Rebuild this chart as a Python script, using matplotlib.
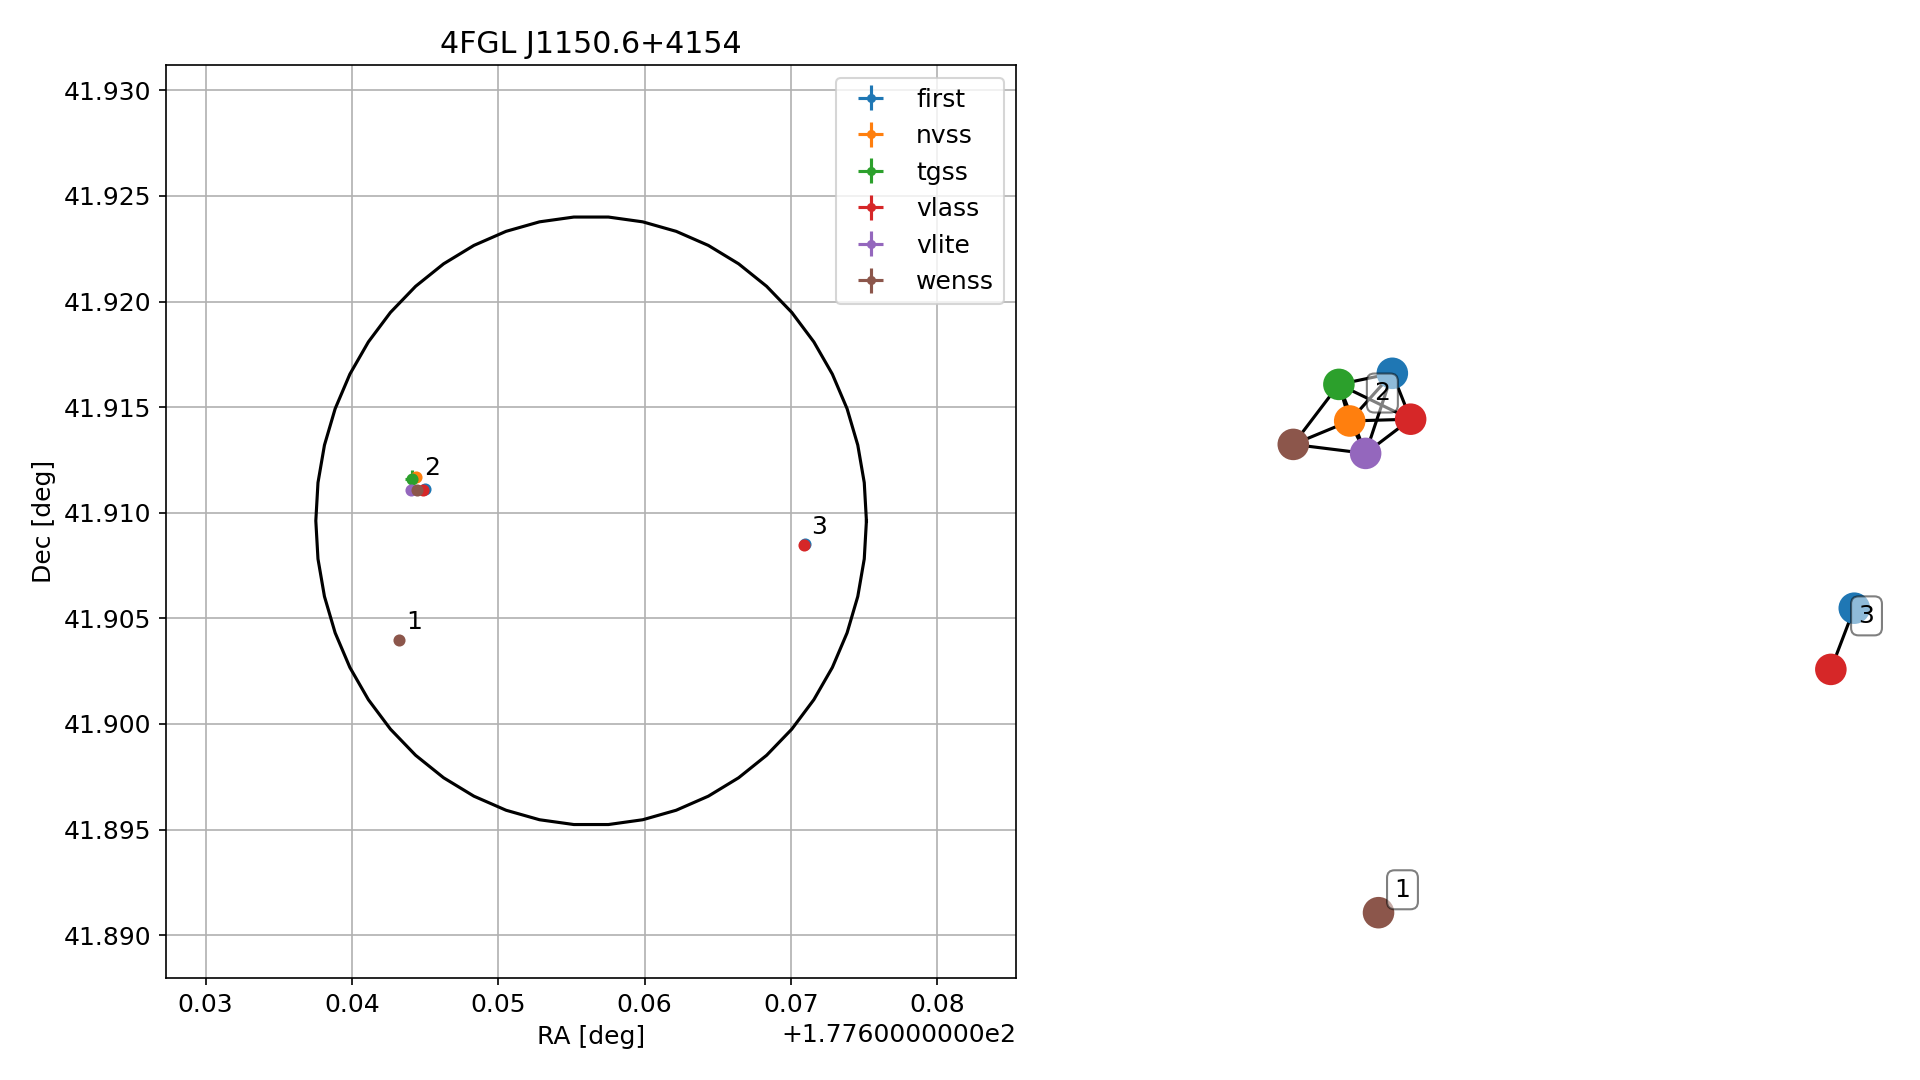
import numpy as np
import matplotlib
matplotlib.use('Agg')
import matplotlib.pyplot as plt
from matplotlib.ticker import ScalarFormatter

plt.rcParams['font.size'] = 12

# source name and 4FGL ellipse
title = '4FGL J1150.6+4154'
ell_ra, ell_dec = 177.65634, 41.90962
ell_a, ell_b = 0.01881, 0.01441   # half widths in RA and Dec [deg]

# radio counterparts per survey
surveys = ['first', 'nvss', 'tgss', 'vlass', 'vlite', 'wenss']
ra = {
    'first': [177.64502, 177.67094],
    'nvss': [177.64435],
    'tgss': [177.64408],
    'vlass': [177.64487, 177.67087],
    'vlite': [177.64401],
    'wenss': [177.64446, 177.64321],
}
dec = {
    'first': [41.911106, 41.90851],
    'nvss': [41.911683],
    'tgss': [41.911603],
    'vlass': [41.911082, 41.90848],
    'vlite': [41.911082],
    'wenss': [41.911082, 41.90397],
}
ra_err = {
    'first': [0.00003, 0.00003],
    'nvss': [0.00015],
    'tgss': [0.00046],
    'vlass': [0.00002, 0.00002],
    'vlite': [0.0001],
    'wenss': [0.0001, 0.0001],
}
dec_err = {
    'first': [0.00003, 0.00003],
    'nvss': [0.0002],
    'tgss': [0.0004],
    'vlass': [0.00002, 0.00002],
    'vlite': [0.0001],
    'wenss': [0.0001, 0.0001],
}
# cluster id of every point above
cluster = {
    'first': [2, 3], 'nvss': [2], 'tgss': [2],
    'vlass': [2, 3], 'vlite': [2], 'wenss': [2, 1],
}

# graph of matches (layout positions)
node_survey = ['first', 'nvss', 'tgss', 'vlass', 'vlite', 'wenss', 'first', 'vlass', 'wenss']
node_cluster = [2, 2, 2, 2, 2, 2, 3, 3, 1]
node_x = [-0.628, -0.770, -0.806, -0.567, -0.717, -0.958, 0.911, 0.833, -0.674]
node_y = [0.889, 0.730, 0.852, 0.736, 0.622, 0.652, 0.106, -0.098, -0.909]
edges = [(2, 0), (2, 3), (2, 1), (2, 5), (2, 4), (1, 0), (1, 3), (1, 5), (1, 4),
         (5, 4), (4, 3), (4, 0), (0, 3), (6, 7)]

colors = {s: 'C%d' % i for i, s in enumerate(surveys)}


class LongOffset(ScalarFormatter):
    # old style offset text, e.g. +1.7760000000e2
    def get_offset(self):
        if not self.offset:
            return ''
        e = int(np.floor(np.log10(abs(self.offset))))
        return '+%1.10fe%d' % (self.offset / 10 ** e, e)


fig = plt.figure(figsize=(12.8, 7.2), dpi=150)

# left: sky positions
ax = fig.add_axes([0.0865, 0.0944, 0.4429, 0.8454])
t = np.linspace(0, 2 * np.pi, 51)
ax.plot(ell_ra + ell_a * np.cos(t), ell_dec + ell_b * np.sin(t), 'k-', lw=1.5)
for s in surveys:
    ax.errorbar(ra[s], dec[s], xerr=ra_err[s], yerr=dec_err[s], fmt='.', ms=9.6,
                color=colors[s], label=s)

# cluster numbers
all_ra = np.concatenate([ra[s] for s in surveys])
all_dec = np.concatenate([dec[s] for s in surveys])
all_cl = np.concatenate([cluster[s] for s in surveys])
for c in sorted(set(all_cl)):
    m = all_cl == c
    ax.annotate(str(c), (all_ra[m].mean(), all_dec[m].mean()), xytext=(7.2, 8.6),
                textcoords='offset points', ha='center', va='center')

ax.set_xlim(177.6273, 177.6854)
ax.set_ylim(41.88797, 41.9312)
ax.xaxis.set_major_formatter(LongOffset())
ax.grid(True)
ax.set_xlabel('RA [deg]')
ax.set_ylabel('Dec [deg]')
ax.set_title(title)
ax.legend(loc='upper right', markerscale=0.7)

# right: match graph
ax2 = fig.add_axes([1100 / 1919, 0, 819 / 1919, 1])
ax2.set_xlim(-1.6, 1.13)
ax2.set_ylim(-1.4667, 2.1333)
ax2.axis('off')
for i, j in edges:
    ax2.plot([node_x[i], node_x[j]], [node_y[i], node_y[j]], 'k-', lw=1.5, zorder=1)
ax2.scatter(node_x, node_y, s=200, c=[colors[s] for s in node_survey], zorder=2)
nx_arr = np.array(node_x)
ny_arr = np.array(node_y)
ncl = np.array(node_cluster)
for c in sorted(set(node_cluster)):
    m = ncl == c
    ax2.annotate(str(c), (nx_arr[m].mean(), ny_arr[m].mean()), xytext=(11.5, 11),
                 textcoords='offset points', ha='center', va='center',
                 bbox=dict(boxstyle='round', fc='white', alpha=0.5), zorder=3)

fig.savefig('out.png', dpi=150)
